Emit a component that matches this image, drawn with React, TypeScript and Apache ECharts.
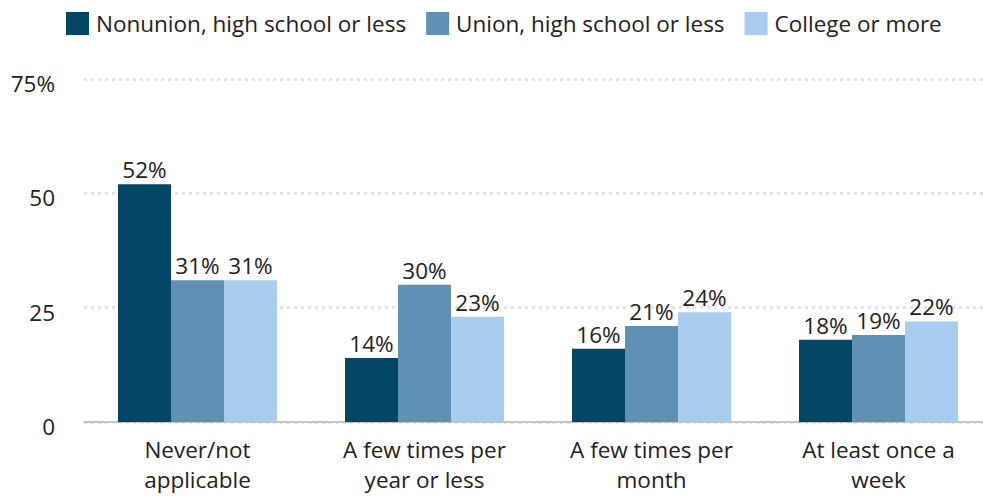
import React, { useEffect, useRef } from "react";
import * as echarts from "echarts";

const categories = ["Never/not\napplicable", "A few times per\nyear or less", "A few times per\nmonth", "At least once a\nweek"];
const seriesNames = ["Nonunion, high school or less", "Union, high school or less", "College or more"];
const nonunionHS = [52, 14, 16, 18];
const unionHS = [31, 30, 21, 19];
const college = [31, 23, 24, 22];
const colors = ["#044666", "#5f91b5", "#a8cdef"];
const yTicks = [0, 25, 50, 75];

const FONT = "Open Sans";
const FS = 22.5;

export default function App() {
  const ref = useRef<HTMLDivElement>(null);
  useEffect(() => {
    const chart = echarts.init(ref.current!, null, { renderer: "svg" });
    const data = [nonunionHS, unionHS, college];
    chart.setOption({
      animation: false,
      textStyle: { fontFamily: FONT },
      legend: {
        left: 61,
        top: 7,
        itemWidth: 23,
        itemHeight: 23,
        itemGap: 20,
        icon: "rect",
        textStyle: { fontSize: FS, color: "#222", fontFamily: FONT, padding: [0, 0, 0, 2] },
        data: seriesNames,
      },
      grid: { left: 84, right: 8, top: 79, bottom: 74 },
      xAxis: {
        type: "category",
        data: categories,
        axisTick: { show: false },
        axisLine: { show: true, lineStyle: { color: "#c4c4c4", width: 2 } },
        axisLabel: { fontSize: FS, color: "#222", lineHeight: 30, margin: 12, fontFamily: FONT },
      },
      yAxis: {
        type: "value",
        min: 0,
        max: 75,
        interval: 25,
        axisLine: { show: false },
        axisTick: { show: false },
        splitLine: { lineStyle: { color: "#e4e4e4", width: 3, type: [3, 4] } },
        axisLabel: {
          color: "#222",
          margin: 29,
          fontFamily: FONT,
          formatter: (v: number) => "{a|" + (v === 75 ? "75%" : yTicks.includes(v) ? String(v) : "") + "}",
          rich: { a: { fontSize: FS, color: "#222", fontFamily: FONT, padding: [9, 0, 0, 0] } },
        },
      },
      series: data.map((d, i) => ({
        name: seriesNames[i],
        type: "bar",
        data: d,
        barWidth: 53,
        barGap: 0,
        itemStyle: { color: colors[i] },
        label: {
          show: true,
          position: "top",
          distance: 3,
          formatter: "{c}%",
          fontSize: FS,
          color: "#222",
          fontFamily: FONT,
        },
      })),
    });
    return () => chart.dispose();
  }, []);
  return (
    <div style={{ width: 983, height: 496, position: "absolute", left: 0, top: 0, overflow: "hidden" }}>
      <div ref={ref} style={{ width: 1000, height: 496 }} />
    </div>
  );
}
